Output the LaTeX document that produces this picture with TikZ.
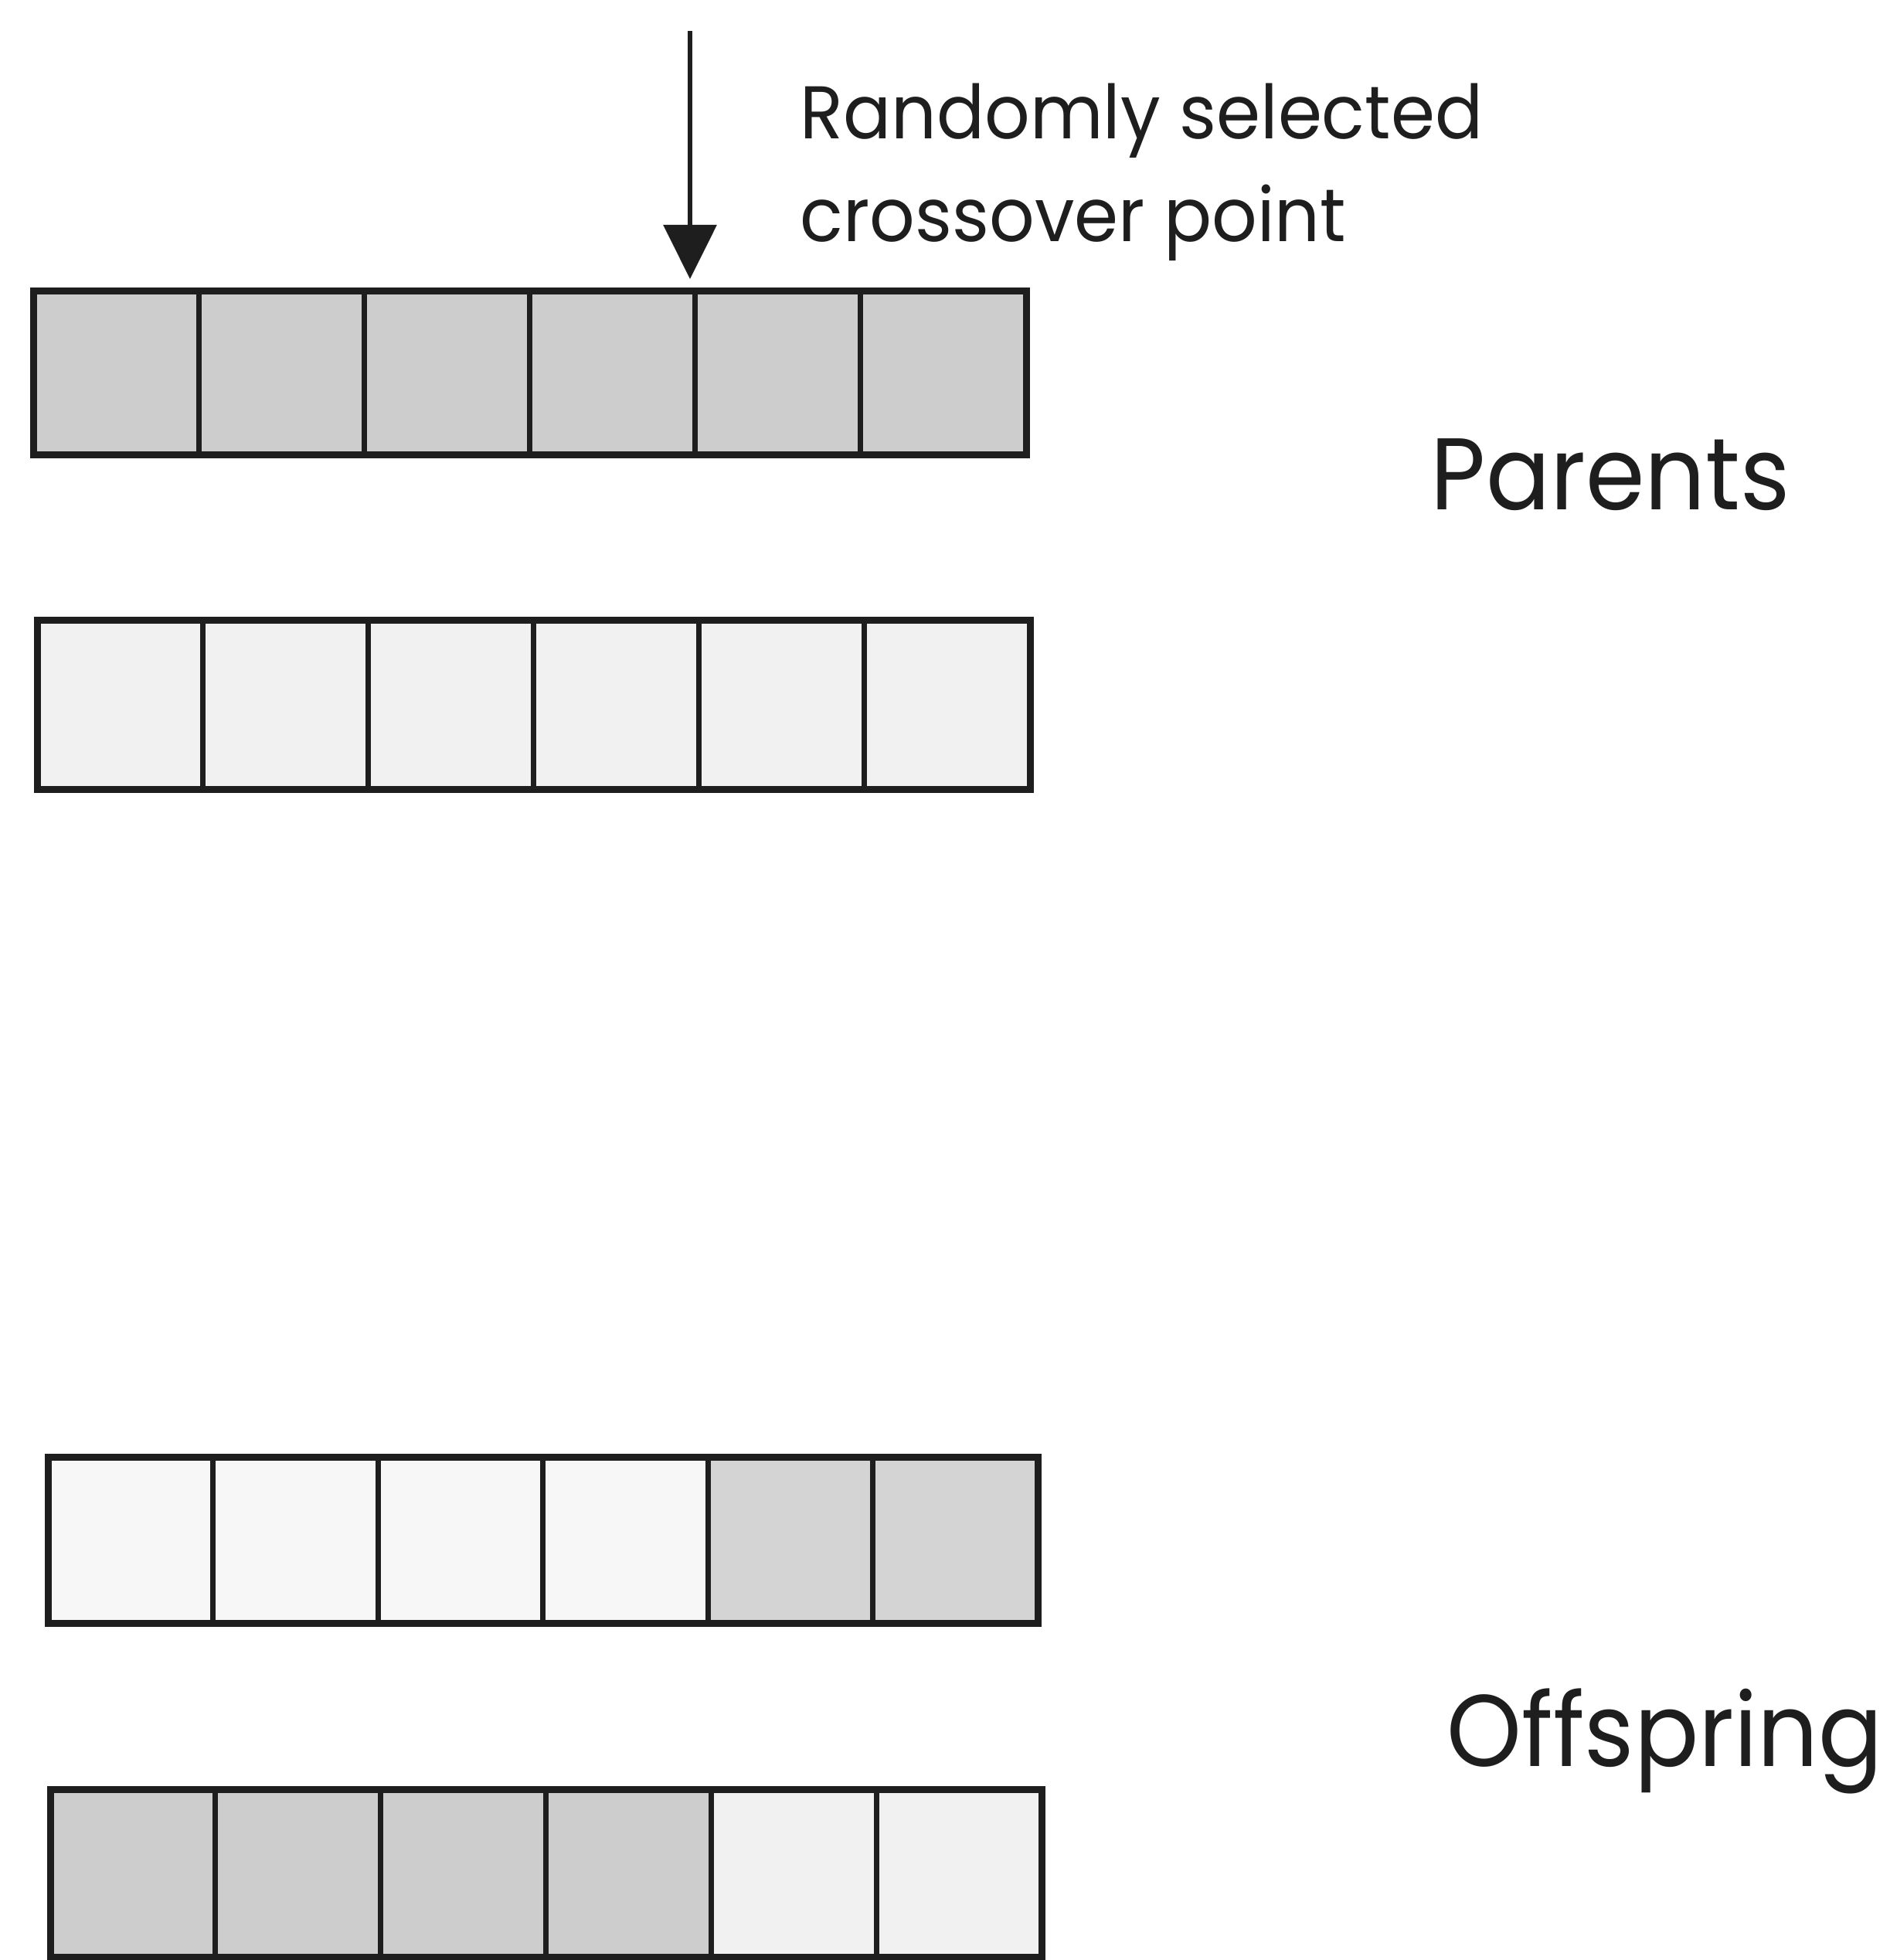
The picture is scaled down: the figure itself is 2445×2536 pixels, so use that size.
\documentclass[tikz,border=0pt]{standalone}
\usepackage{fontspec}
\setmainfont{Poppins}
\newfontfamily\notefont[FakeStretch=0.95]{Poppins}
\newfontfamily\titlefont[FakeStretch=0.935]{Poppins}
\usetikzlibrary{arrows.meta}

% grey tones of the two parent chromosomes
\definecolor{inkline}{HTML}{1E1E1E}
\definecolor{darkgene}{HTML}{CDCDCD}
\definecolor{lightgene}{HTML}{F1F1F1}
\definecolor{paledark}{HTML}{D4D4D4}
\definecolor{palelight}{HTML}{F7F7F7}

\tikzset{
  cell/.style={draw=inkline, line width=0.7mm, inner sep=0pt, outer sep=0pt, rectangle},
  frame/.style={draw=inkline, line width=0.9mm, inner sep=0pt, outer sep=0pt, rectangle},
  caption/.style={inner sep=0pt, anchor=base west, text=inkline},
  note/.style={caption, font=\notefont\fontsize{27.5pt}{33pt}\selectfont},
  title/.style={caption, font=\titlefont\fontsize{37.5pt}{45pt}\selectfont},
  pointer/.style={draw=inkline, line width=0.65mm,
    -{Triangle[width=6.8mm, length=7mm]}, shorten >=1.6mm},
}

% \chromosome{name}{left}{top}{right}{bottom}{six fill colours}
\newcommand\chromosome[6]{%
  \pgfmathsetmacro\chrW{(#4-#2)/6}%
  \pgfmathsetmacro\chrH{#5-#3}%
  \pgfmathsetmacro\chrY{(#3+#5)/2}%
  \foreach \gc [count=\gi] in {#6}{%
    \pgfmathsetmacro\chrX{#2+(\gi-0.5)*\chrW}%
    \node[cell, fill=\gc, minimum width=\chrW*0.1mm, minimum height=\chrH*0.1mm]
      (#1-\gi) at (\chrX,\chrY) {};
  }%
  \node[frame, minimum width=(#4-#2)*0.1mm, minimum height=\chrH*0.1mm]
    (#1) at ({(#2+#4)/2},\chrY) {};
}

\begin{document}
\begin{tikzpicture}[x=0.1mm, y=-0.1mm]
  \useasboundingbox (0,0) rectangle (2445,2536);

  % parents
  \chromosome{pa}{43}{377}{1328}{589}{darkgene,darkgene,darkgene,darkgene,darkgene,darkgene}
  \chromosome{pb}{48}{802}{1333}{1021}{lightgene,lightgene,lightgene,lightgene,lightgene,lightgene}

  % offspring
  \chromosome{oa}{62}{1885}{1343}{2100}{palelight,palelight,palelight,palelight,paledark,paledark}
  \chromosome{ob}{65}{2315}{1348}{2532}{darkgene,darkgene,darkgene,darkgene,lightgene,lightgene}

  % crossover marker
  \coordinate (xover) at (893,40);
  \draw[pointer] (xover) -- (xover |- pa.north);

  \node[note] (sel1) at (1035,180) {Randomly selected};
  \node[note] (sel2) at (1035,313) {crossover point};

  \node[title] (parents) at (1851,660) {Parents};
  \node[title] (offspring) at (1872,2285) {Offspring};
\end{tikzpicture}
\end{document}
